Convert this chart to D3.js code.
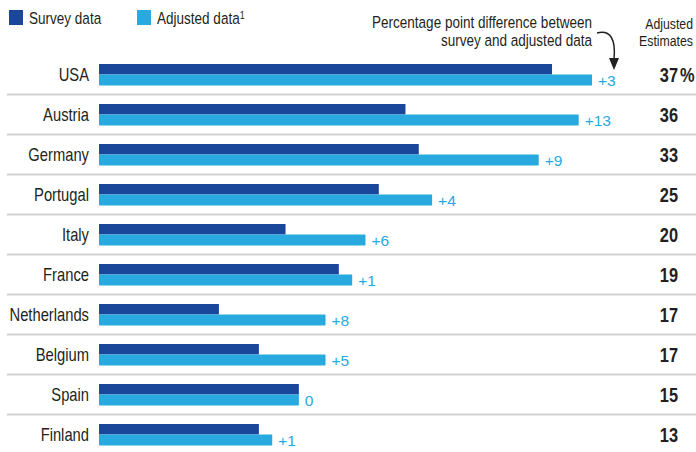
<!DOCTYPE html>
<html>
<head>
<meta charset="utf-8">
<script src="https://cdn.jsdelivr.net/npm/d3@7"></script>
<style>
  body { margin: 0; background: #fff; }
  svg text { font-family: "Liberation Sans", Arial, sans-serif; }
</style>
</head>
<body>
<div id="chart"></div>
<script>
// data
const countries = ["USA", "Austria", "Germany", "Portugal", "Italy", "France", "Netherlands", "Belgium", "Spain", "Finland"];
const surveyData = [34, 23, 24, 21, 14, 18, 9, 12, 15, 12];
const adjustedData = [37, 36, 33, 25, 20, 19, 17, 17, 15, 13];
const diffLabels = ["+3", "+13", "+9", "+4", "+6", "+1", "+8", "+5", "0", "+1"];

const width = 696, height = 452;
const dark = "#1b479b", light = "#28a9e0", ink = "#231f20";
const narrow = 0.82; // no condensed font installed, squeeze by hand

const rows = countries.map((c, i) => ({
  country: c, survey: surveyData[i], adjusted: adjustedData[i], diff: diffLabels[i]
}));

const svg = d3.select("#chart").append("svg")
  .attr("width", width)
  .attr("height", height);

const x = d3.scaleLinear().domain([0, 37]).range([99, 592]);
const y = d3.scaleBand().domain(countries).range([54.5, 454.5]);
const half = 10.5;

function squeeze(sel, px, py) {
  return sel.attr("transform", function(d) {
    const a = typeof px === "function" ? px(d) : px;
    const b = typeof py === "function" ? py(d) : py;
    return "translate(" + a + "," + b + ") scale(" + narrow + ",1)";
  });
}

// row separators
svg.selectAll("line.sep")
  .data(countries.slice(0, -1))
  .enter().append("line")
  .attr("class", "sep")
  .attr("x1", 7).attr("x2", width)
  .attr("y1", d => y(d) + y.bandwidth())
  .attr("y2", d => y(d) + y.bandwidth())
  .attr("stroke", "#d3d3d5")
  .attr("stroke-width", 2);

const row = svg.selectAll("g.row")
  .data(rows)
  .enter().append("g")
  .attr("class", "row")
  .attr("transform", d => "translate(0," + (y(d.country) + y.bandwidth() / 2) + ")");

row.append("rect")
  .attr("x", x(0))
  .attr("y", -half)
  .attr("width", d => x(d.survey) - x(0))
  .attr("height", half)
  .attr("fill", dark);

row.append("rect")
  .attr("x", x(0))
  .attr("y", 0)
  .attr("width", d => x(d.adjusted) - x(0))
  .attr("height", half + 0.5)
  .attr("fill", light);

row.append("text")
  .call(squeeze, 89, 6.5)
  .attr("text-anchor", "end")
  .style("font-size", "18px")
  .attr("fill", ink)
  .text(d => d.country);

row.append("text")
  .attr("x", d => x(d.adjusted) + 6)
  .attr("y", 11)
  .style("font-size", "15.5px")
  .attr("fill", light)
  .text(d => d.diff);

row.append("text")
  .call(squeeze, 678, 7.5)
  .attr("text-anchor", "end")
  .style("font-size", "20px")
  .style("font-weight", "bold")
  .attr("fill", ink)
  .text(d => d.adjusted);

row.filter((d, i) => i === 0).append("text")
  .call(squeeze, 680, 7.5)
  .style("font-size", "20px")
  .style("font-weight", "bold")
  .attr("fill", ink)
  .text("%");

// legend
const legend = [
  { label: "Survey data", color: dark, x: 9 },
  { label: "Adjusted data", color: light, x: 137, sup: "1" }
];
const lg = svg.selectAll("g.legend")
  .data(legend)
  .enter().append("g")
  .attr("class", "legend")
  .attr("transform", d => "translate(" + d.x + ",0)");
lg.append("rect")
  .attr("x", 0).attr("y", 10)
  .attr("width", 14).attr("height", 15)
  .attr("fill", d => d.color);
const lt = lg.append("text")
  .call(squeeze, 20, 24)
  .style("font-size", "16.5px")
  .attr("fill", ink)
  .text(d => d.label);
lt.filter(d => d.sup).append("tspan")
  .attr("dy", -5)
  .style("font-size", "11px")
  .text(d => d.sup);

// annotation
svg.append("text")
  .call(squeeze, 592, 28)
  .attr("text-anchor", "end")
  .style("font-size", "16.5px")
  .attr("fill", ink)
  .text("Percentage point difference between");
svg.append("text")
  .call(squeeze, 592, 46)
  .attr("text-anchor", "end")
  .style("font-size", "16.5px")
  .attr("fill", ink)
  .text("survey and adjusted data");

svg.append("path")
  .attr("d", "M597,33 Q617,28 614,60")
  .attr("fill", "none")
  .attr("stroke", ink)
  .attr("stroke-width", 1.5);
svg.append("path")
  .attr("d", "M609,58 L619,58 L614,70 Z")
  .attr("fill", ink);

// column header
svg.append("text")
  .call(squeeze, 693, 29)
  .attr("text-anchor", "end")
  .style("font-size", "15px")
  .attr("fill", ink)
  .text("Adjusted");
svg.append("text")
  .call(squeeze, 693, 46)
  .attr("text-anchor", "end")
  .style("font-size", "15px")
  .attr("fill", ink)
  .text("Estimates");
</script>
</body>
</html>
